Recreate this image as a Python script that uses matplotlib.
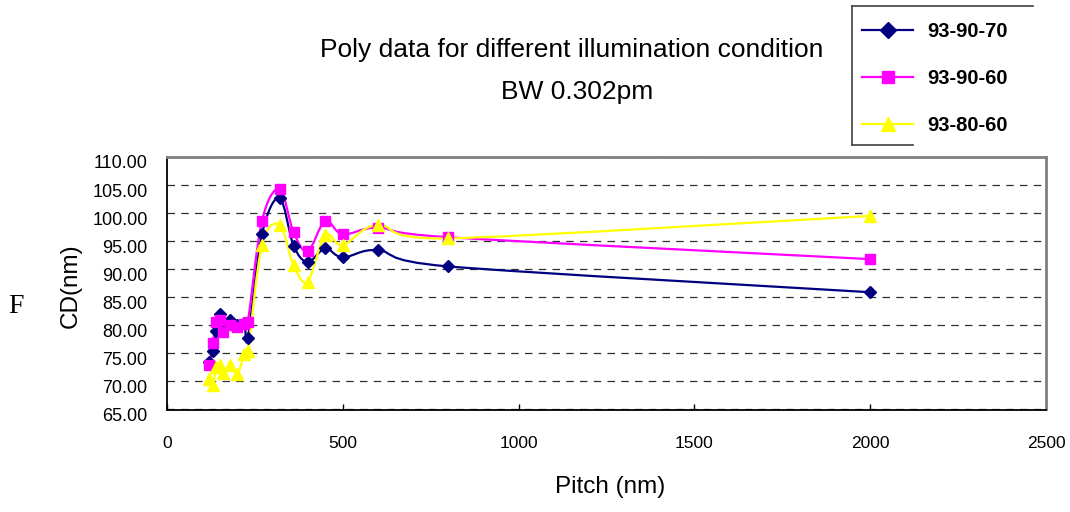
import numpy as np
import matplotlib
matplotlib.use('Agg')
import matplotlib.pyplot as plt
from matplotlib.path import Path
from matplotlib.patches import PathPatch
from matplotlib.lines import Line2D
import matplotlib.transforms as mtransforms
from matplotlib.ticker import FormatStrFormatter

plt.rcParams['font.family'] = ['Liberation Sans', 'DejaVu Sans']

# pitch (nm) and CD (nm)
pitch = [120, 130, 140, 150, 160, 180, 200, 220, 230, 270, 320, 360, 400, 450, 500, 600, 800, 2000]
cd_93_90_70 = [73.5, 75.5, 79.0, 82.0, 80.0, 81.0, 80.0, 80.5, 77.8, 96.2, 102.7, 94.2, 91.3, 93.7, 92.1, 93.4, 90.5, 85.9]
cd_93_90_60 = [72.9, 76.8, 80.6, 81.0, 78.9, 80.0, 79.7, 80.3, 80.6, 98.6, 104.3, 96.6, 93.2, 98.6, 96.2, 97.4, 95.7, 91.8]
cd_93_80_60 = [70.4, 69.4, 72.5, 72.9, 71.5, 72.9, 71.3, 74.9, 75.5, 94.3, 97.9, 90.7, 87.8, 96.1, 94.3, 97.9, 95.5, 99.5]

series_names = ['93-90-70', '93-90-60', '93-80-60']
series_data = [cd_93_90_70, cd_93_90_60, cd_93_80_60]
series_colors = ['#000080', '#FF00FF', '#FFFF00']
series_markers = ['D', 's', '^']
series_msize = [6.0, 7.5, 8.5]

x_ticks = [0, 500, 1000, 1500, 2000, 2500]
y_ticks = [65, 70, 75, 80, 85, 90, 95, 100, 105, 110]


def smooth_path(x, y):
    # excel-like smoothed line: cubic bezier through the points (catmull-rom style)
    pts = np.column_stack((x, y)).astype(float)
    n = len(pts)
    tang = np.zeros_like(pts)
    for i in range(n):
        p0 = pts[max(i - 1, 0)]
        p2 = pts[min(i + 1, n - 1)]
        t = (p2 - p0) / 6.0
        # keep control points between neighbours so the curve does not loop back
        lim = []
        if i > 0:
            lim.append(pts[i, 0] - pts[i - 1, 0])
        if i < n - 1:
            lim.append(pts[i + 1, 0] - pts[i, 0])
        if abs(t[0]) > 0:
            t = t * min(1.0, min(lim) / abs(t[0]))
        tang[i] = t
    verts = [pts[0]]
    codes = [Path.MOVETO]
    for i in range(n - 1):
        verts += [pts[i] + tang[i], pts[i + 1] - tang[i + 1], pts[i + 1]]
        codes += [Path.CURVE4] * 3
    return Path(verts, codes)


fig = plt.figure(figsize=(10.7, 5.12), dpi=100)
ax = fig.add_axes([167 / 1070, (512 - 409.5) / 512, 879 / 1070, 252.5 / 512])

for name, vals, col, mk, ms in zip(series_names, series_data, series_colors, series_markers, series_msize):
    ax.add_patch(PathPatch(smooth_path(pitch, vals), facecolor='none', edgecolor=col,
                           lw=1.6, zorder=3))
    ax.plot(pitch, vals, linestyle='none', marker=mk, ms=ms, color=col, mec=col, zorder=4)

ax.set_xlim(0, 2500)
ax.set_ylim(65, 110)
ax.set_xticks(x_ticks)
ax.set_yticks(y_ticks)
ax.yaxis.set_major_formatter(FormatStrFormatter('%.2f'))
ax.grid(axis='y', color='#303030', linestyle=(0, (6, 5)), lw=0.9)
ax.set_axisbelow(True)

ax.tick_params(axis='x', direction='in', length=4, width=1, pad=19, labelsize=12.5)
ax.tick_params(axis='y', length=0, pad=14, labelsize=13)

for s in ['left', 'bottom']:
    ax.spines[s].set_color('black')
    ax.spines[s].set_linewidth(1.3)
for s in ['top', 'right']:
    ax.spines[s].set_color('#808080')
    ax.spines[s].set_linewidth(2)

# excel puts the value labels a bit below the gridlines
off = mtransforms.ScaledTranslation(0, -0.05, fig.dpi_scale_trans)
for lbl in ax.get_yticklabels():
    lbl.set_transform(lbl.get_transform() + off)

ax.set_xlabel('Pitch (nm)', fontsize=17.5)
ax.xaxis.set_label_coords(0.504, -0.262)
ax.set_ylabel('CD(nm)', fontsize=17.5)
ax.yaxis.set_label_coords(-0.097, 0.49)

fig.text(572 / 1070, 1 - 57 / 512, 'Poly data for different illumination condition',
         ha='center', va='baseline', fontsize=19)
fig.text(577 / 1070, 1 - 99 / 512, 'BW 0.302pm', ha='center', va='baseline', fontsize=19)

# stray glyph at the left edge of the original
fig.text(8 / 1070, 1 - 313 / 512, 'F', ha='left', va='baseline', fontsize=20,
         family='Liberation Serif')

handles = [Line2D([], [], color=c, marker=m, ms=s, lw=1.6, mec=c)
           for c, m, s in zip(series_colors, series_markers, [8, 9, 9.5])]
fig.legend(handles, series_names, loc='upper left', bbox_to_anchor=(862 / 1070, 1 - 22 / 512),
           frameon=False, borderpad=0, borderaxespad=0, handlelength=2.55, handletextpad=0.7,
           labelspacing=1.38, prop={'weight': 'bold', 'size': 14.5})

# partly hidden legend frame
W, H = 1070.0, 512.0
for xs, ys in [([852, 1033], [6, 6]), ([852, 852], [6, 145]), ([852, 913], [145, 145])]:
    fig.add_artist(Line2D([v / W for v in xs], [1 - v / H for v in ys],
                          transform=fig.transFigure, color='#404040', lw=1.2))

fig.savefig('out.png', dpi=100)
